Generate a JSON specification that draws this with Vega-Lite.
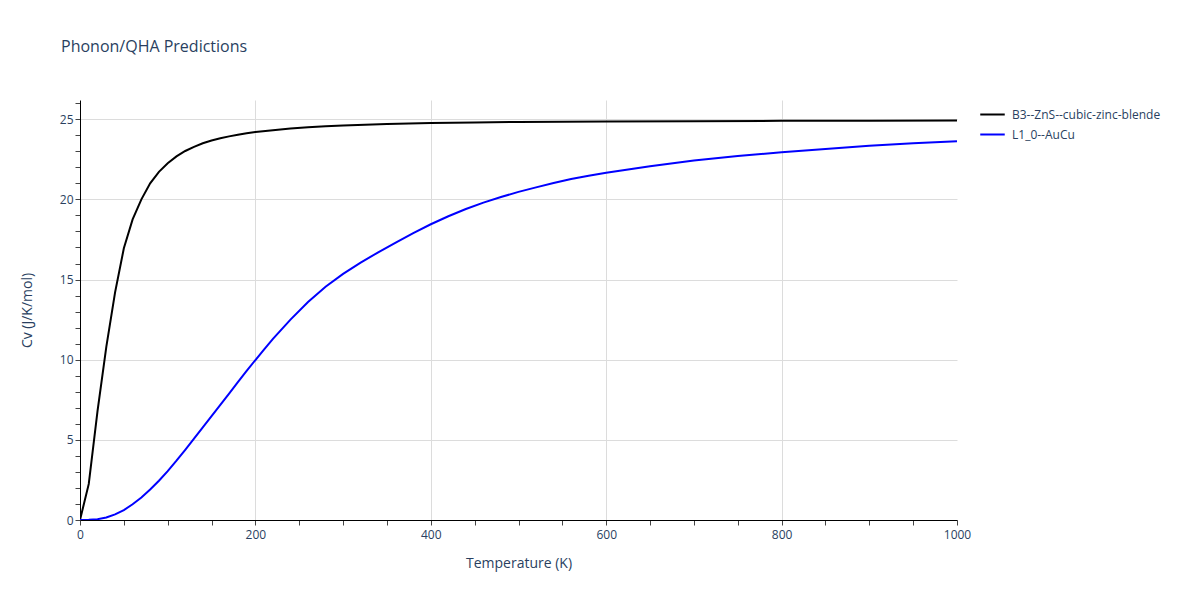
{
  "$schema": "https://vega.github.io/schema/vega-lite/v6.json",
  "autosize": "none",
  "width": 877,
  "height": 420,
  "padding": {"left": 80, "top": 100, "right": 243, "bottom": 80},
  "background": "white",
  "config": {
    "font": "Open Sans",
    "view": {"stroke": null},
    "axis": {"labelColor": "#2a3f5f", "titleColor": "#2a3f5f", "labelFontSize": 12, "titleFontSize": 14, "titleFontWeight": "normal", "domainColor": "black", "domainWidth": 1, "tickColor": "#444", "tickSize": 5, "gridColor": "#dcdcdc", "gridWidth": 1, "labelFlush": false}
  },
  "title": {"text": "Phonon/QHA Predictions", "anchor": "start", "frame": "group", "dx": -19, "dy": 16, "offset": 48, "fontSize": 16, "fontWeight": "normal", "color": "#2a3f5f", "baseline": "alphabetic"},
  "data": {"values": [
    {"T": 0, "Cv": 0, "s": "B3--ZnS--cubic-zinc-blende"},
    {"T": 10, "Cv": 2.25, "s": "B3--ZnS--cubic-zinc-blende"},
    {"T": 20, "Cv": 6.8, "s": "B3--ZnS--cubic-zinc-blende"},
    {"T": 30, "Cv": 10.8, "s": "B3--ZnS--cubic-zinc-blende"},
    {"T": 40, "Cv": 14.2, "s": "B3--ZnS--cubic-zinc-blende"},
    {"T": 50, "Cv": 16.95, "s": "B3--ZnS--cubic-zinc-blende"},
    {"T": 60, "Cv": 18.75, "s": "B3--ZnS--cubic-zinc-blende"},
    {"T": 70, "Cv": 20.0, "s": "B3--ZnS--cubic-zinc-blende"},
    {"T": 80, "Cv": 21.0, "s": "B3--ZnS--cubic-zinc-blende"},
    {"T": 90, "Cv": 21.72, "s": "B3--ZnS--cubic-zinc-blende"},
    {"T": 100, "Cv": 22.25, "s": "B3--ZnS--cubic-zinc-blende"},
    {"T": 110, "Cv": 22.68, "s": "B3--ZnS--cubic-zinc-blende"},
    {"T": 120, "Cv": 23.02, "s": "B3--ZnS--cubic-zinc-blende"},
    {"T": 130, "Cv": 23.28, "s": "B3--ZnS--cubic-zinc-blende"},
    {"T": 140, "Cv": 23.5, "s": "B3--ZnS--cubic-zinc-blende"},
    {"T": 150, "Cv": 23.67, "s": "B3--ZnS--cubic-zinc-blende"},
    {"T": 160, "Cv": 23.81, "s": "B3--ZnS--cubic-zinc-blende"},
    {"T": 170, "Cv": 23.93, "s": "B3--ZnS--cubic-zinc-blende"},
    {"T": 180, "Cv": 24.03, "s": "B3--ZnS--cubic-zinc-blende"},
    {"T": 190, "Cv": 24.12, "s": "B3--ZnS--cubic-zinc-blende"},
    {"T": 200, "Cv": 24.2, "s": "B3--ZnS--cubic-zinc-blende"},
    {"T": 220, "Cv": 24.32, "s": "B3--ZnS--cubic-zinc-blende"},
    {"T": 240, "Cv": 24.42, "s": "B3--ZnS--cubic-zinc-blende"},
    {"T": 260, "Cv": 24.5, "s": "B3--ZnS--cubic-zinc-blende"},
    {"T": 280, "Cv": 24.56, "s": "B3--ZnS--cubic-zinc-blende"},
    {"T": 300, "Cv": 24.61, "s": "B3--ZnS--cubic-zinc-blende"},
    {"T": 350, "Cv": 24.7, "s": "B3--ZnS--cubic-zinc-blende"},
    {"T": 400, "Cv": 24.76, "s": "B3--ZnS--cubic-zinc-blende"},
    {"T": 450, "Cv": 24.8, "s": "B3--ZnS--cubic-zinc-blende"},
    {"T": 500, "Cv": 24.83, "s": "B3--ZnS--cubic-zinc-blende"},
    {"T": 600, "Cv": 24.86, "s": "B3--ZnS--cubic-zinc-blende"},
    {"T": 700, "Cv": 24.88, "s": "B3--ZnS--cubic-zinc-blende"},
    {"T": 800, "Cv": 24.9, "s": "B3--ZnS--cubic-zinc-blende"},
    {"T": 900, "Cv": 24.91, "s": "B3--ZnS--cubic-zinc-blende"},
    {"T": 1000, "Cv": 24.92, "s": "B3--ZnS--cubic-zinc-blende"},
    {"T": 0, "Cv": 0, "s": "L1_0--AuCu"},
    {"T": 10, "Cv": 0.01, "s": "L1_0--AuCu"},
    {"T": 20, "Cv": 0.05, "s": "L1_0--AuCu"},
    {"T": 30, "Cv": 0.16, "s": "L1_0--AuCu"},
    {"T": 40, "Cv": 0.35, "s": "L1_0--AuCu"},
    {"T": 50, "Cv": 0.62, "s": "L1_0--AuCu"},
    {"T": 60, "Cv": 0.98, "s": "L1_0--AuCu"},
    {"T": 70, "Cv": 1.4, "s": "L1_0--AuCu"},
    {"T": 80, "Cv": 1.9, "s": "L1_0--AuCu"},
    {"T": 90, "Cv": 2.45, "s": "L1_0--AuCu"},
    {"T": 100, "Cv": 3.05, "s": "L1_0--AuCu"},
    {"T": 110, "Cv": 3.7, "s": "L1_0--AuCu"},
    {"T": 120, "Cv": 4.38, "s": "L1_0--AuCu"},
    {"T": 130, "Cv": 5.08, "s": "L1_0--AuCu"},
    {"T": 140, "Cv": 5.78, "s": "L1_0--AuCu"},
    {"T": 150, "Cv": 6.48, "s": "L1_0--AuCu"},
    {"T": 160, "Cv": 7.18, "s": "L1_0--AuCu"},
    {"T": 170, "Cv": 7.88, "s": "L1_0--AuCu"},
    {"T": 180, "Cv": 8.6, "s": "L1_0--AuCu"},
    {"T": 190, "Cv": 9.3, "s": "L1_0--AuCu"},
    {"T": 200, "Cv": 9.98, "s": "L1_0--AuCu"},
    {"T": 210, "Cv": 10.65, "s": "L1_0--AuCu"},
    {"T": 220, "Cv": 11.3, "s": "L1_0--AuCu"},
    {"T": 240, "Cv": 12.5, "s": "L1_0--AuCu"},
    {"T": 260, "Cv": 13.6, "s": "L1_0--AuCu"},
    {"T": 280, "Cv": 14.55, "s": "L1_0--AuCu"},
    {"T": 300, "Cv": 15.35, "s": "L1_0--AuCu"},
    {"T": 320, "Cv": 16.05, "s": "L1_0--AuCu"},
    {"T": 340, "Cv": 16.7, "s": "L1_0--AuCu"},
    {"T": 360, "Cv": 17.3, "s": "L1_0--AuCu"},
    {"T": 380, "Cv": 17.9, "s": "L1_0--AuCu"},
    {"T": 400, "Cv": 18.45, "s": "L1_0--AuCu"},
    {"T": 420, "Cv": 18.95, "s": "L1_0--AuCu"},
    {"T": 440, "Cv": 19.4, "s": "L1_0--AuCu"},
    {"T": 460, "Cv": 19.8, "s": "L1_0--AuCu"},
    {"T": 480, "Cv": 20.15, "s": "L1_0--AuCu"},
    {"T": 500, "Cv": 20.47, "s": "L1_0--AuCu"},
    {"T": 520, "Cv": 20.75, "s": "L1_0--AuCu"},
    {"T": 540, "Cv": 21.02, "s": "L1_0--AuCu"},
    {"T": 560, "Cv": 21.27, "s": "L1_0--AuCu"},
    {"T": 580, "Cv": 21.48, "s": "L1_0--AuCu"},
    {"T": 600, "Cv": 21.66, "s": "L1_0--AuCu"},
    {"T": 650, "Cv": 22.07, "s": "L1_0--AuCu"},
    {"T": 700, "Cv": 22.42, "s": "L1_0--AuCu"},
    {"T": 750, "Cv": 22.7, "s": "L1_0--AuCu"},
    {"T": 800, "Cv": 22.94, "s": "L1_0--AuCu"},
    {"T": 850, "Cv": 23.15, "s": "L1_0--AuCu"},
    {"T": 900, "Cv": 23.35, "s": "L1_0--AuCu"},
    {"T": 950, "Cv": 23.5, "s": "L1_0--AuCu"},
    {"T": 1000, "Cv": 23.63, "s": "L1_0--AuCu"}
  ]},
  "mark": {"type": "line", "strokeWidth": 2, "clip": true},
  "encoding": {
    "x": {"field": "T", "type": "quantitative", "scale": {"domain": [0, 1000], "nice": false, "zero": false},
      "axis": {"title": "Temperature (K)", "format": "d", "values": [0,50,100,150,200,250,300,350,400,450,500,550,600,650,700,750,800,850,900,950,1000],
        "labelExpr": "datum.value % 200 === 0 ? datum.label : ''", "labelPadding": 4, "titlePadding": 16,
        "gridOpacity": {"condition": {"test": "datum.value % 200 === 0 && datum.value > 0 && datum.value < 1000", "value": 1}, "value": 0}}},
    "y": {"field": "Cv", "type": "quantitative", "scale": {"domain": [0, 26.2], "nice": false},
      "axis": {"title": "Cv (J/K/mol)", "values": [0,1,2,3,4,5,6,7,8,9,10,11,12,13,14,15,16,17,18,19,20,21,22,23,24,25,26],
        "labelExpr": "datum.value % 5 === 0 ? datum.label : ''", "labelPadding": 2, "titlePadding": 25,
        "gridOpacity": {"condition": {"test": "datum.value % 5 === 0 && datum.value > 0", "value": 1}, "value": 0}}},
    "color": {"field": "s", "type": "nominal", "title": null,
      "scale": {"domain": ["B3--ZnS--cubic-zinc-blende", "L1_0--AuCu"], "range": ["black", "blue"]},
      "legend": {"orient": "none", "legendX": 899, "legendY": 1, "symbolType": "stroke", "symbolSize": 600, "symbolStrokeWidth": 2, "labelFontSize": 12, "labelColor": "#2a3f5f", "labelOffset": 6, "rowPadding": 0}}
  }
}
